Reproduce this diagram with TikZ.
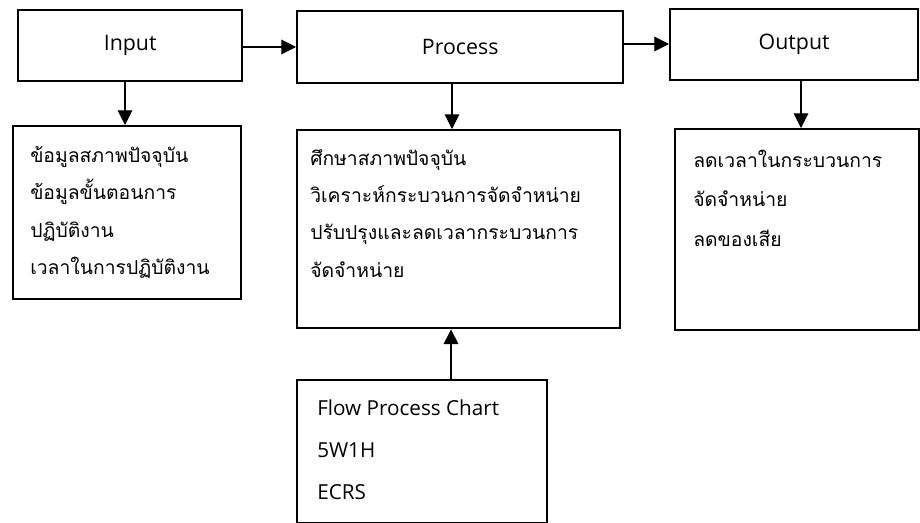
\documentclass[tikz,border=0pt]{standalone}
\usepackage{fontspec}
\setmainfont{Open Sans}
\newfontfamily\thaifont[Script=Thai]{Loma}
\usetikzlibrary{arrows.meta}
\tikzset{
  box/.style={draw, line width=1.8pt, inner sep=0pt, anchor=north west},
  head/.style={font=\fontsize{16}{19}\selectfont},
  thaitext/.style={font=\thaifont\fontsize{14.5}{28}\selectfont, align=left, anchor=north west, inner sep=0pt},
  flow/.style={line width=.8pt, -{Triangle[length=11pt,width=11pt]}}
}
\begin{document}
\begin{tikzpicture}[x=.75pt, y=-.75pt]
  \useasboundingbox (0,0) rectangle (920,523);
  % top row
  \node[box, minimum width=224*.75pt, minimum height=71*.75pt] (input) at (17,9) {};
  \node[box, minimum width=326*.75pt, minimum height=72*.75pt] (process) at (296,10) {};
  \node[box, minimum width=248*.75pt, minimum height=71*.75pt] (output) at (669,8) {};
  \node[head] (inputlabel) at (input.center) {Input};
  \node[head] (processlabel) at (process.center) {Process};
  \node[head] (outputlabel) at (output.center) {Output};
  % lower row
  \node[box, minimum width=228*.75pt, minimum height=173*.75pt] (data) at (12,125) {};
  \node[box, minimum width=323*.75pt, minimum height=198*.75pt] (study) at (296,129) {};
  \node[box, minimum width=244*.75pt, minimum height=201*.75pt] (result) at (674,128) {};
  \node[box, minimum width=250*.75pt, minimum height=143*.75pt] (tools) at (296,379) {};
  \node[thaitext] (datatext) at (30,146) {ข้อมูลสภาพปัจจุบัน\\ข้อมูลขั้นตอนการ\\ปฏิบัติงาน\\เวลาในการปฏิบัติงาน};
  \node[thaitext] (studytext) at (310,149) {ศึกษาสภาพปัจจุบัน\\วิเคราะห์กระบวนการจัดจำหน่าย\\ปรับปรุงและลดเวลากระบวนการ\\จัดจำหน่าย};
  \node[thaitext, font=\thaifont\fontsize{14.5}{29.5}\selectfont] (resulttext) at (693,150) {ลดเวลาในกระบวนการ\\จัดจำหน่าย\\ลดของเสีย};
  \node[align=left, anchor=north west, inner sep=0pt, font=\fontsize{15.5}{31.5}\selectfont] (toolstext) at (317,400) {Flow Process Chart\\5W1H\\ECRS};
  % connectors
  \draw[flow] (input.east |- 0,47) -- (process.west |- 0,47);
  \draw[flow] (process.east |- 0,44) -- (output.west |- 0,44);
  \draw[flow] (input.south -| 125,0) -- (data.north -| 125,0);
  \draw[flow] (process.south -| 452,0) -- (study.north -| 452,0);
  \draw[flow] (output.south -| 801,0) -- (result.north -| 801,0);
  \draw[flow] (tools.north -| 451,0) -- (study.south -| 451,0);
\end{tikzpicture}
\end{document}
